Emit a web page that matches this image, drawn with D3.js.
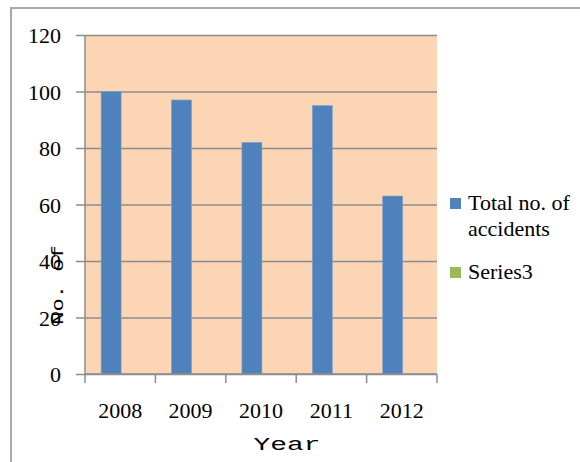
<!DOCTYPE html>
<html>
<head>
<meta charset="utf-8">
<script src="https://cdn.jsdelivr.net/npm/d3@7"></script>
<style>
  html, body { margin: 0; padding: 0; background: #ffffff; }
  svg { display: block; }
</style>
</head>
<body>
<svg id="chart" width="580" height="462"></svg>
<script>
// Road accident totals per year
const categories = ["2008", "2009", "2010", "2011", "2012"];
const totalAccidents = [100, 97, 82, 95, 63];
const series3 = [null, null, null, null, null];
const seriesNames = ["Total no. of accidents", "Series3"];
const yTicks = [0, 20, 40, 60, 80, 100, 120];

const colors = { "Total no. of accidents": "#4f81bd", "Series3": "#9bbb59" };
const seriesData = [
  { name: seriesNames[0], values: totalAccidents },
  { name: seriesNames[1], values: series3 }
];

const svg = d3.select("#chart");
const plot = { left: 85, right: 437, top: 35, bottom: 374 };
const serif = "'Liberation Serif', 'Times New Roman', serif";
const mono = "'Liberation Mono', 'Courier New', monospace";
const axisGrey = "#8c8c8c";

// outer chart frame (extends past the visible window)
svg.append("rect")
  .attr("x", 11).attr("y", 8)
  .attr("width", 620).attr("height", 500)
  .attr("fill", "#ffffff")
  .attr("stroke", "#a9a9a9").attr("stroke-width", 2);

const x = d3.scaleBand().domain(categories).range([plot.left, plot.right]).padding(0);
const xSeries = d3.scaleBand().domain(seriesNames)
  .range([0, x.bandwidth()]).paddingInner(0).paddingOuter(0.76).align(0.53);
const y = d3.scaleLinear().domain([0, 120]).range([plot.bottom, plot.top]);

// plot background
svg.append("rect")
  .attr("x", plot.left).attr("y", plot.top)
  .attr("width", plot.right - plot.left).attr("height", plot.bottom - plot.top)
  .attr("fill", "#fcd5b4");

// horizontal gridlines with outside tick marks
const yAxis = d3.axisLeft(y).tickValues(yTicks)
  .tickSize(-(plot.right - plot.left)).tickSizeOuter(0).tickPadding(24)
  .tickFormat(d3.format("d"));
const gy = svg.append("g").attr("transform", `translate(${plot.left},0)`).call(yAxis);
gy.select(".domain").remove();
gy.selectAll(".tick line")
  .attr("x1", -9)
  .attr("stroke", axisGrey).attr("stroke-width", 1.5);
gy.selectAll(".tick text")
  .attr("font-family", serif).attr("font-size", 22).attr("fill", "#000")
  .attr("dy", "0.35em");

// bars
seriesData.forEach(s => {
  svg.append("g").selectAll("rect")
    .data(s.values.map((v, i) => ({ cat: categories[i], v })).filter(d => d.v != null))
    .join("rect")
    .attr("x", d => x(d.cat) + xSeries(s.name))
    .attr("width", xSeries.bandwidth())
    .attr("y", d => y(d.v))
    .attr("height", d => y(0) - y(d.v))
    .attr("fill", colors[s.name])
    .attr("stroke", "#7fa3cf").attr("stroke-width", 0.6);
});

// vertical axis line
svg.append("line")
  .attr("x1", plot.left).attr("x2", plot.left)
  .attr("y1", plot.top).attr("y2", plot.bottom)
  .attr("stroke", axisGrey).attr("stroke-width", 1.5);

// category axis
const xAxis = d3.axisBottom(x).tickSize(0).tickPadding(30);
const gx = svg.append("g").attr("transform", `translate(0,${plot.bottom})`).call(xAxis);
gx.select(".domain").attr("stroke", axisGrey).attr("stroke-width", 1.5)
  .attr("d", `M${plot.left},0H${plot.right}`);
gx.selectAll(".tick text")
  .attr("font-family", serif).attr("font-size", 22).attr("fill", "#000")
  .attr("y", 28).attr("dy", "0.71em");
const boundaries = categories.map(c => x(c)).concat([plot.right]);
gx.append("g").selectAll("line").data(boundaries).join("line")
  .attr("x1", d => d).attr("x2", d => d)
  .attr("y1", 0).attr("y2", 9)
  .attr("stroke", axisGrey).attr("stroke-width", 1.5);

// axis titles
svg.append("text")
  .attr("transform", "translate(287,450) scale(1.55,1)")
  .attr("text-anchor", "middle")
  .attr("font-family", mono).attr("font-size", 18).attr("fill", "#000")
  .text("Year");

svg.append("text")
  .attr("transform", "translate(63,285) rotate(-90) scale(1.3,1)")
  .attr("text-anchor", "middle")
  .attr("font-family", mono).attr("font-size", 17).attr("fill", "#000")
  .text("No. of");

// legend
const legend = svg.append("g").attr("transform", "translate(450,0)");
const legendRows = [
  { name: seriesNames[0], lines: ["Total no. of", "accidents"], top: 198 },
  { name: seriesNames[1], lines: ["Series3"], top: 267 }
];
legendRows.forEach(r => {
  legend.append("rect")
    .attr("x", 0).attr("y", r.top).attr("width", 11).attr("height", 11)
    .attr("fill", colors[r.name]);
  const t = legend.append("text")
    .attr("font-family", serif).attr("font-size", 22).attr("fill", "#000");
  r.lines.forEach((ln, i) => {
    t.append("tspan").attr("x", 18).attr("y", r.top + 12 + i * 26).text(ln);
  });
});
</script>
</body>
</html>
